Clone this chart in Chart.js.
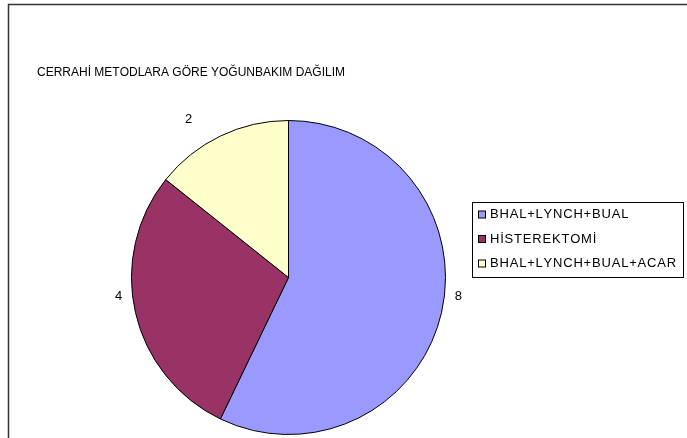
<!DOCTYPE html>
<html>
<head>
<meta charset="utf-8">
<title>Cerrahi metodlara göre yoğunbakım dağılım</title>
<script src="https://cdn.jsdelivr.net/npm/chart.js@4/dist/chart.umd.min.js"></script>
<style>
  html, body { margin: 0; padding: 0; background: #ffffff; }
  #wrap { width: 687px; height: 438px; position: relative; }
  canvas { display: block; }
</style>
</head>
<body>
<div id="wrap"><canvas id="c" width="687" height="438"></canvas></div>
<script>
// Chart data
const titleText = 'CERRAHİ METODLARA GÖRE YOĞUNBAKIM DAĞILIM';
const categories = ['BHAL+LYNCH+BUAL', 'HİSTEREKTOMİ', 'BHAL+LYNCH+BUAL+ACAR'];
const patientCounts = [8, 4, 2];
const sliceColors = ['#9999FF', '#993366', '#FFFFCC'];

const FONT = '"Liberation Sans", Arial, sans-serif';

// Draws text one glyph at a time with extra tracking between glyphs
function drawSpaced(ctx, text, x, y, spacing) {
  let cx = x;
  for (const ch of text) {
    ctx.fillText(ch, cx, y);
    cx += ctx.measureText(ch).width + spacing;
  }
}

// Outer frame, title, value labels and the boxed legend
const decorations = {
  id: 'decorations',
  afterDraw(chart) {
    const ctx = chart.ctx;
    ctx.save();

    // frame
    ctx.strokeStyle = '#333';
    ctx.lineWidth = 1.5;
    ctx.beginPath();
    ctx.moveTo(8.5, 438);
    ctx.lineTo(8.5, 4.5);
    ctx.lineTo(687, 4.5);
    ctx.stroke();

    // title
    ctx.fillStyle = '#000';
    ctx.font = '12px ' + FONT;
    ctx.textBaseline = 'middle';
    ctx.textAlign = 'left';
    drawSpaced(ctx, titleText, 37, 73, 0);

    // value labels outside each slice, nudged toward the horizontal
    const meta = chart.getDatasetMeta(0);
    ctx.font = '13px ' + FONT;
    ctx.textAlign = 'center';
    meta.data.forEach((arc, i) => {
      const p = arc.getProps(['x', 'y', 'startAngle', 'endAngle', 'outerRadius'], true);
      let mid = (p.startAngle + p.endAngle) / 2;
      mid -= Math.sign(Math.sin(mid)) * Math.sign(Math.cos(mid)) * 0.115;
      const up = Math.max(0, -Math.sin(mid));
      const r = p.outerRadius + 14 + 22 * up * up;
      const lx = p.x + Math.cos(mid) * r;
      const ly = p.y + Math.sin(mid) * r;
      ctx.fillText(String(patientCounts[i]), lx, ly);
    });

    // legend box
    const bx = 472.5, by = 202.5, bw = 211, bh = 75;
    ctx.fillStyle = '#fff';
    ctx.fillRect(bx, by, bw, bh);
    ctx.strokeStyle = '#000';
    ctx.lineWidth = 1;
    ctx.strokeRect(bx, by, bw, bh);
    ctx.font = '13px ' + FONT;
    ctx.textAlign = 'left';
    categories.forEach((name, i) => {
      const rowY = 214.5 + i * 24.5;
      ctx.fillStyle = sliceColors[i];
      ctx.fillRect(478.5, rowY - 3.5, 7, 7);
      ctx.strokeStyle = '#000';
      ctx.strokeRect(478.5, rowY - 3.5, 7, 7);
      ctx.fillStyle = '#000';
      drawSpaced(ctx, name, 490, rowY, 0.8);
    });

    ctx.restore();
  }
};

new Chart(document.getElementById('c'), {
  type: 'pie',
  data: {
    labels: categories,
    datasets: [{
      data: patientCounts,
      backgroundColor: sliceColors,
      borderColor: '#000',
      borderWidth: 1
    }]
  },
  options: {
    responsive: false,
    animation: false,
    events: [],
    layout: { padding: { left: 131, right: 241, top: 120, bottom: 3 } },
    plugins: {
      legend: { display: false },
      title: { display: false },
      tooltip: { enabled: false }
    }
  },
  plugins: [decorations]
});
</script>
</body>
</html>
